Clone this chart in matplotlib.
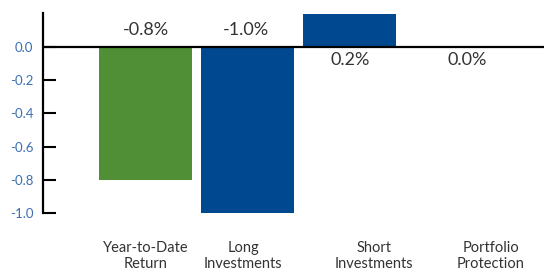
import matplotlib.pyplot as plt

categories = ["Year-to-Date\nReturn", "Long\nInvestments", "Short\nInvestments", "Portfolio\nProtection"]
values = [-0.8, -1.0, 0.2, 0.0]
value_labels = ["-0.8%", "-1.0%", "0.2%", "0.0%"]
colors = ["#508f35", "#00488f", "#00488f", "#00488f"]
y_ticks = [0.0, -0.2, -0.4, -0.6, -0.8, -1.0]

# small horizontal nudges of the text, in category units (layout only)
cat_label_shift = [0.0, -0.04, 0.24, 0.39]
value_label_shift = [0.0, -0.01, 0.01, 0.16]

plt.rcParams['font.family'] = ['Lato', 'DejaVu Sans']

fig = plt.figure(figsize=(5.44, 2.70), dpi=100)
ax = fig.add_axes([43 / 544, 57 / 270, 1 - 43 / 544, (213 - 13) / 270])

x = list(range(len(values)))
ax.bar(x, values, width=0.91, color=colors, zorder=2)
ax.axhline(0, color="black", lw=1.6, zorder=3)

for i, v in enumerate(values):
    dy = 17 if v < 0 else -13
    ax.annotate(value_labels[i], (x[i] + value_label_shift[i], 0), xytext=(0, dy),
                textcoords="offset pixels", ha="center", va="center",
                fontsize=13, color="#333333")

ax.set_xlim(-1.005, 3.91)
ax.set_ylim(-1.0, 0.205)

ax.set_xticks([x[i] + cat_label_shift[i] for i in x])
ax.set_xticklabels(categories, fontsize=10.5, color="#333333", linespacing=1.2)
ax.tick_params(axis="x", length=0, pad=20)

ax.set_yticks(y_ticks)
ax.set_yticklabels([f"{t:.1f}" for t in y_ticks], fontsize=9.5, color="#3b6fb0")
ax.tick_params(axis="y", direction="in", length=9, width=1.5, pad=7)

for s in ["top", "right", "bottom"]:
    ax.spines[s].set_visible(False)
ax.spines["left"].set_linewidth(1.6)

fig.savefig("out.png", dpi=100)
